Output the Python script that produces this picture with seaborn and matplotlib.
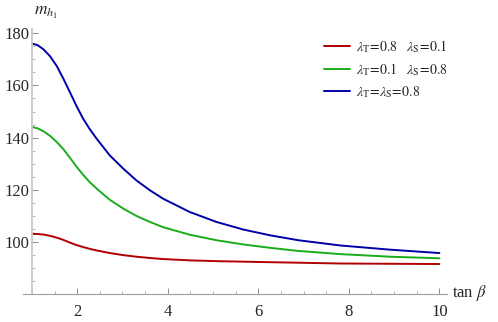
import numpy as np
import pandas as pd
import matplotlib
matplotlib.use('Agg')
import matplotlib.pyplot as plt
from matplotlib.ticker import MultipleLocator
import seaborn as sns

# значения
tan_beta = [1.0, 1.12, 1.25, 1.4, 1.55, 1.7, 1.84, 1.98, 2.13, 2.28, 2.43, 2.72, 3.02, 3.31,
            3.61, 3.90, 4.49, 5.08, 5.67, 6.26, 6.89, 7.81, 8.91, 10.0]
m_red = [103.2, 103.1, 102.9, 102.4, 101.7, 100.8, 99.8, 98.9, 98.1, 97.4, 96.8, 95.8, 95.0, 94.4,
         93.9, 93.5, 93.0, 92.7, 92.5, 92.3, 92.1, 91.8, 91.7, 91.6]
m_green = [144.1, 143.6, 142.5, 140.7, 138.3, 135.5, 132.3, 129.0, 125.8, 122.9, 120.5, 116.2, 112.8, 110.0,
           107.7, 105.7, 102.8, 100.7, 99.1, 97.8, 96.6, 95.4, 94.4, 93.8]
m_blue = [176.0, 175.5, 173.9, 171.2, 167.4, 162.4, 157.4, 152.3, 147.3, 143.2, 139.6, 133.2, 128.1, 123.6,
          119.8, 116.6, 111.5, 107.7, 104.8, 102.6, 100.7, 98.7, 97.1, 95.8]

labels = [r'$\lambda_{\rm T}\!=\!0.8\quad\lambda_{\rm S}\!=\!0.1$',
          r'$\lambda_{\rm T}\!=\!0.1\quad\lambda_{\rm S}\!=\!0.8$',
          r'$\lambda_{\rm T}\!=\!\lambda_{\rm S}\!=\!0.8$']
colors = ['#b00000', '#1aad1a', '#0000a8']

df = pd.concat([
    pd.DataFrame({'tanb': tan_beta, 'm': vals, 'case': lab})
    for vals, lab in zip([m_red, m_green, m_blue], labels)
])

sns.set_style('white')
plt.rcParams['font.family'] = ['Liberation Serif', 'DejaVu Serif']
plt.rcParams['mathtext.fontset'] = 'stix'

fig = plt.figure(figsize=(4.98, 3.22), dpi=100)
ax = fig.add_axes([0.0468, 0.086, 0.85, 0.823])

sns.lineplot(data=df, x='tanb', y='m', hue='case', palette=colors,
             linewidth=1.4, ax=ax, legend=True)

ax.set_xlim(0.81, 10.16)
ax.set_ylim(80, 181.5)

for s in ['top', 'right']:
    ax.spines[s].set_visible(False)
ax.spines['left'].set_position(('data', 1))
ax.spines['left'].set_color('#c8c8c8')
ax.spines['left'].set_linewidth(1.3)
ax.spines['bottom'].set_color('#a0a0a0')
ax.spines['bottom'].set_linewidth(0.8)

ax.xaxis.set_major_locator(MultipleLocator(2))
ax.xaxis.set_minor_locator(MultipleLocator(0.5))
ax.yaxis.set_minor_locator(MultipleLocator(5))
ax.set_yticks([100, 120, 140, 160, 180])
ax.tick_params(which='major', direction='in', length=4, width=0.7, color='#909090',
               labelsize=12, bottom=True, left=True)
ax.tick_params(which='minor', direction='in', length=2, width=0.6, color='#a8a8a8',
               bottom=True, left=True)
ax.tick_params(axis='x', which='major', pad=7)
ax.tick_params(axis='y', which='major', pad=2)

ax.set_xlabel('')
ax.set_ylabel('')
fig.text(0.942, 0.09, r'tan $\beta$', fontsize=12, ha='center', va='center')
fig.text(0.092, 0.96, r'$m_{h_1}$', fontsize=12.5, ha='center', va='center')

leg = ax.legend(loc='upper left', bbox_to_anchor=(0.625, 0.92), bbox_transform=fig.transFigure,
                frameon=False, fontsize=10, handlelength=1.9, labelspacing=0.45,
                handletextpad=0.45)
for line in leg.get_lines():
    line.set_linewidth(1.4)

plt.savefig('out.png', dpi=100)
